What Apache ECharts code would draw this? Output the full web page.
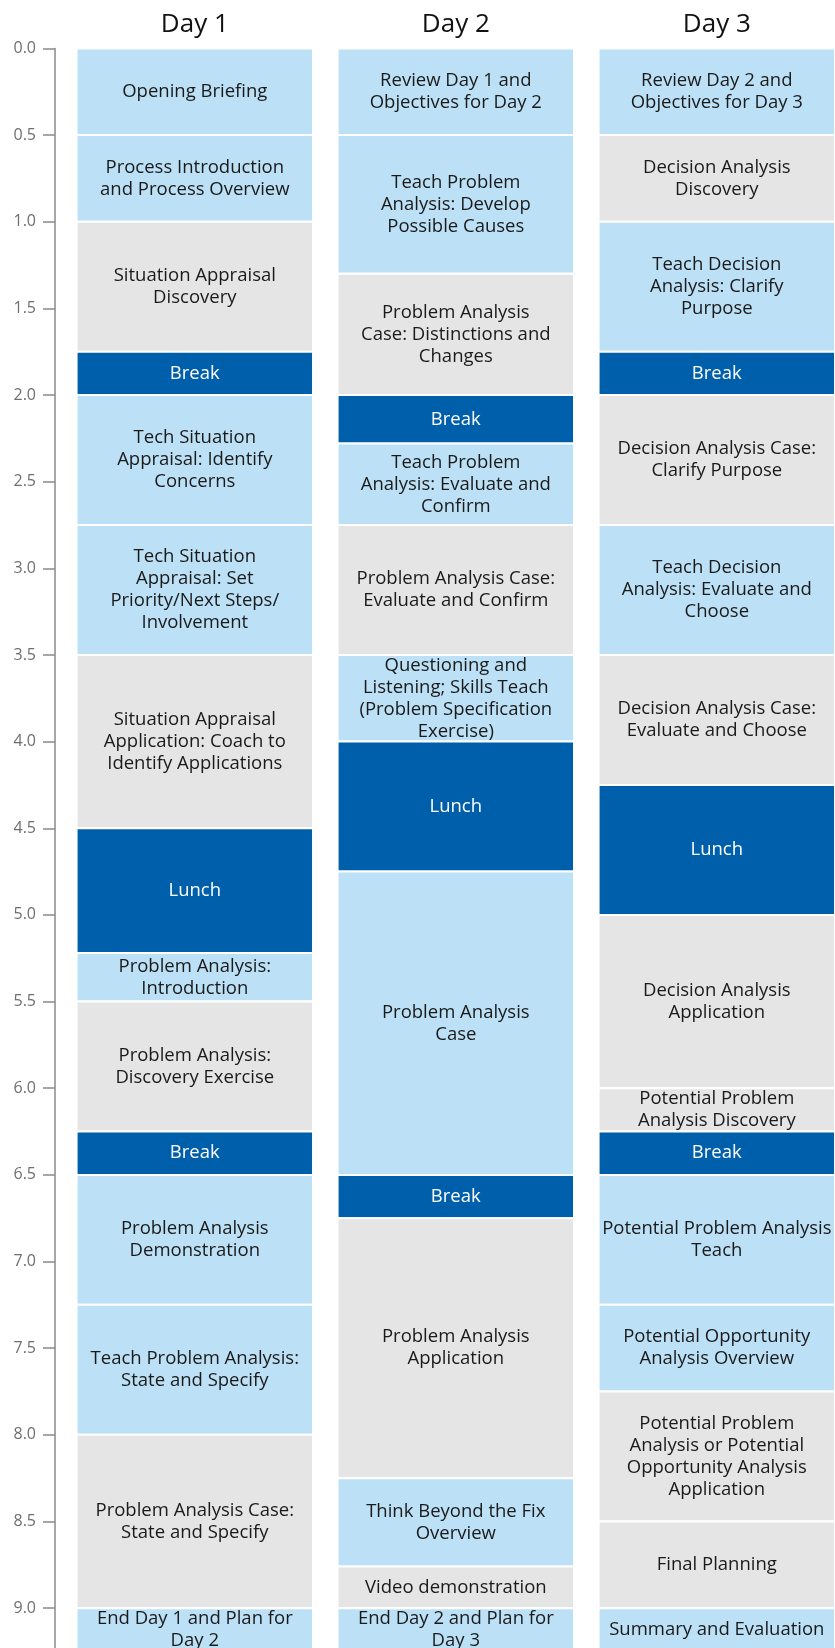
<!DOCTYPE html>
<html>
<head>
<meta charset="utf-8">
<title>Training schedule</title>
<script src="https://cdn.jsdelivr.net/npm/echarts@6/dist/echarts.min.js"></script>
<style>
    html, body { margin: 0; padding: 0; background: #fff; }
    #chart { width: 835px; height: 1648px; }
</style>
</head>
<body>
<div id="chart"></div>
<script>
// 1. 数据
let days = ['Day 1', 'Day 2', 'Day 3']

// 每个时段: [开始, 结束, 标题, 类型]  teach=浅蓝 work=灰 break=深蓝
let day1 = [
    [0, 0.5, 'Opening Briefing', 'teach'],
    [0.5, 1.0, 'Process Introduction\nand Process Overview', 'teach'],
    [1.0, 1.75, 'Situation Appraisal\nDiscovery', 'work'],
    [1.75, 2.0, 'Break', 'break'],
    [2.0, 2.75, 'Tech Situation\nAppraisal: Identify\nConcerns', 'teach'],
    [2.75, 3.5, 'Tech Situation\nAppraisal: Set\nPriority/Next Steps/\nInvolvement', 'teach'],
    [3.5, 4.5, 'Situation Appraisal\nApplication: Coach to\nIdentify Applications', 'work'],
    [4.5, 5.22, 'Lunch', 'break'],
    [5.22, 5.5, 'Problem Analysis:\nIntroduction', 'teach'],
    [5.5, 6.25, 'Problem Analysis:\nDiscovery Exercise', 'work'],
    [6.25, 6.5, 'Break', 'break'],
    [6.5, 7.25, 'Problem Analysis\nDemonstration', 'teach'],
    [7.25, 8.0, 'Teach Problem Analysis:\nState and Specify', 'teach'],
    [8.0, 9.0, 'Problem Analysis Case:\nState and Specify', 'work'],
    [9.0, 9.25, 'End Day 1 and Plan for\nDay 2', 'teach']
]

let day2 = [
    [0, 0.5, 'Review Day 1 and\nObjectives for Day 2', 'teach'],
    [0.5, 1.3, 'Teach Problem\nAnalysis: Develop\nPossible Causes', 'teach'],
    [1.3, 2.0, 'Problem Analysis\nCase: Distinctions and\nChanges', 'work'],
    [2.0, 2.28, 'Break', 'break'],
    [2.28, 2.75, 'Teach Problem\nAnalysis: Evaluate and\nConfirm', 'teach'],
    [2.75, 3.5, 'Problem Analysis Case:\nEvaluate and Confirm', 'work'],
    [3.5, 4.0, 'Questioning and\nListening; Skills Teach\n(Problem Specification\nExercise)', 'teach'],
    [4.0, 4.75, 'Lunch', 'break'],
    [4.75, 6.5, 'Problem Analysis\nCase', 'teach'],
    [6.5, 6.75, 'Break', 'break'],
    [6.75, 8.25, 'Problem Analysis\nApplication', 'work'],
    [8.25, 8.76, 'Think Beyond the Fix\nOverview', 'teach'],
    [8.76, 9.0, 'Video demonstration', 'work'],
    [9.0, 9.25, 'End Day 2 and Plan for\nDay 3', 'teach']
]

let day3 = [
    [0, 0.5, 'Review Day 2 and\nObjectives for Day 3', 'teach'],
    [0.5, 1.0, 'Decision Analysis\nDiscovery', 'work'],
    [1.0, 1.75, 'Teach Decision\nAnalysis: Clarify\nPurpose', 'teach'],
    [1.75, 2.0, 'Break', 'break'],
    [2.0, 2.75, 'Decision Analysis Case:\nClarify Purpose', 'work'],
    [2.75, 3.5, 'Teach Decision\nAnalysis: Evaluate and\nChoose', 'teach'],
    [3.5, 4.25, 'Decision Analysis Case:\nEvaluate and Choose', 'work'],
    [4.25, 5.0, 'Lunch', 'break'],
    [5.0, 6.0, 'Decision Analysis\nApplication', 'work'],
    [6.0, 6.25, 'Potential Problem\nAnalysis Discovery', 'work'],
    [6.25, 6.5, 'Break', 'break'],
    [6.5, 7.25, 'Potential Problem Analysis\nTeach', 'teach'],
    [7.25, 7.75, 'Potential Opportunity\nAnalysis Overview', 'teach'],
    [7.75, 8.5, 'Potential Problem\nAnalysis or Potential\nOpportunity Analysis\nApplication', 'work'],
    [8.5, 9.0, 'Final Planning', 'work'],
    [9.0, 9.25, 'Summary and Evaluation', 'teach']
]

// 2. 样式
let kindColor = { teach: '#bce0f5', work: '#e5e5e5', break: '#005fab' }
let kindText = { teach: '#1a1a1a', work: '#1a1a1a', break: '#ffffff' }
let fontName = '"Open Sans", sans-serif'

// 3. 组装数据 [天, 开始, 结束]
let sessions = []
;[day1, day2, day3].forEach(function (list, d) {
    list.forEach(function (s) {
        sessions.push({ value: [d, s[0], s[1]], label: s[2], kind: s[3] })
    })
})

function renderItem(params, api) {
    let s = sessions[params.dataIndex]
    let top = api.coord([api.value(0), api.value(1)])
    let bottom = api.coord([api.value(0), api.value(2)])
    let w = api.size([1, 0])[0] * 0.906
    return {
        type: 'rect',
        shape: { x: top[0] - w / 2, y: top[1], width: w, height: bottom[1] - top[1] },
        style: { fill: kindColor[s.kind], stroke: '#fff', lineWidth: 2 },
        textContent: {
            style: {
                text: s.label,
                fill: kindText[s.kind],
                fontSize: 18.5,
                fontFamily: fontName,
                lineHeight: 22,
                align: 'center'
            }
        },
        textConfig: { position: 'inside' }
    }
}

let myChart = echarts.init(document.getElementById('chart'))
let option = {
    animation: false,
    grid: { left: 64.3, top: 48.4, width: 783, height: 1646.4, outerBoundsMode: 'none' },
    xAxis: {
        type: 'category',
        data: days,
        position: 'top',
        axisLine: { show: false },
        axisTick: { show: false },
        axisLabel: { fontSize: 26, color: '#111', fontFamily: fontName, margin: 11 }
    },
    yAxis: {
        type: 'value',
        inverse: true,
        min: 0,
        max: 9.5,
        interval: 0.5,
        offset: 9.3,
        splitLine: { show: false },
        axisLine: { show: true, lineStyle: { color: '#8a8a8a', width: 1.5 } },
        axisTick: { show: true, length: 12, lineStyle: { color: '#8a8a8a', width: 1.5 } },
        axisLabel: {
            fontSize: 16,
            color: '#6f6f6f',
            fontFamily: fontName,
            margin: 19,
            formatter: function (v) { return v.toFixed(1) }
        }
    },
    series: [{
        type: 'custom',
        renderItem: renderItem,
        encode: { x: 0, y: [1, 2] },
        data: sessions.map(function (s) { return s.value })
    }]
}
myChart.setOption(option)
</script>
</body>
</html>
